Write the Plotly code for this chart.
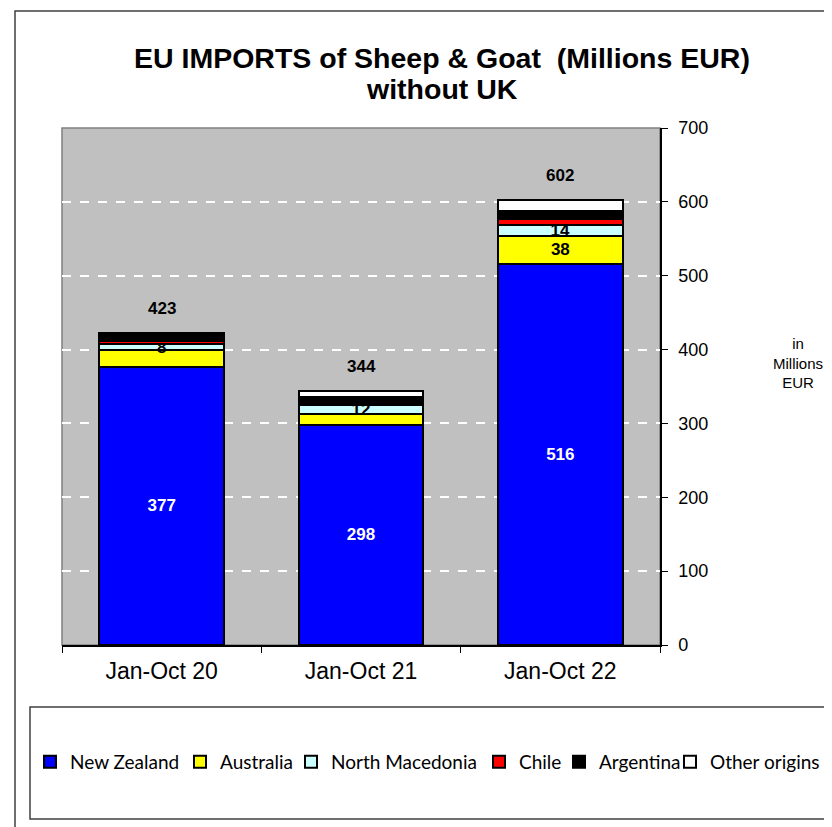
import plotly.graph_objects as go

categories = ["Jan-Oct 20", "Jan-Oct 21", "Jan-Oct 22"]
new_zealand = [377, 298, 516]
australia = [22, 15, 38]
north_macedonia = [8, 12, 14]
chile = [5, 3, 9]
argentina = [11, 8, 11]
other_origins = [0, 8, 14]
totals = [423, 344, 602]

series = [
    ("New Zealand", new_zealand, "#0000FF", [str(v) for v in new_zealand], "white"),
    ("Australia", australia, "#FFFF00", ["", "", str(australia[2])], "black"),
    ("North Macedonia", north_macedonia, "#CCFFFF", [str(v) for v in north_macedonia], "black"),
    ("Chile", chile, "#FF0000", ["", "", ""], "black"),
    ("Argentina", argentina, "#000000", ["", "", ""], "black"),
    ("Other origins", other_origins, "#FFFFFF", ["", "", ""], "black"),
]

# screen-pixel helpers (page has an 8px body margin)
PL, PR, PT, PB = 62, 660, 128, 645
def px(x):
    return (x - PL) / (PR - PL)
def py(y):
    return (PB - y) / (PB - PT)

legend_swatch_left = [49, 199, 310, 498, 578, 689]

fig = go.Figure()
for i, (name, vals, color, txt, tcol) in enumerate(series):
    lg = "legend" if i == 0 else f"legend{i + 1}"
    fig.add_trace(go.Bar(
        name=name, x=categories, y=vals, text=txt,
        textposition="inside", insidetextanchor="middle",
        textangle=0, constraintext="none",
        textfont=dict(family="Arial", size=17, color=tcol),
        texttemplate="<b>%{text}</b>",
        marker=dict(color=color, line=dict(color="black", width=2)),
        hoverinfo="skip", legend=lg,
    ))

for c, t in zip(categories, totals):
    fig.add_annotation(x=c, y=t, text=f"<b>{t}</b>", showarrow=False,
                       yanchor="bottom", yshift=13,
                       font=dict(family="Arial", size=17, color="black"))

fig.add_annotation(xref="paper", yref="paper", x=px(442), y=py(58),
                   text="<b>EU IMPORTS of Sheep & Goat  (Millions EUR)</b>",
                   showarrow=False, xanchor="center", yanchor="middle",
                   font=dict(family="Arial", size=28.5, color="black"))
fig.add_annotation(xref="paper", yref="paper", x=px(442), y=py(89),
                   text="<b>without UK</b>",
                   showarrow=False, xanchor="center", yanchor="middle",
                   font=dict(family="Arial", size=28.5, color="black"))

fig.add_annotation(xref="paper", yref="paper", x=px(798), y=py(363),
                   text="in<br>Millions<br>EUR", showarrow=False, align="center",
                   xanchor="center", yanchor="middle",
                   font=dict(family="Arial", size=15, color="black"))

# outer frame, legend box, plot-area border
fig.add_shape(type="rect", xref="paper", yref="paper",
              x0=px(15), x1=px(900), y0=py(900), y1=py(11),
              line=dict(color="#404040", width=1.5), layer="below")
fig.add_shape(type="rect", xref="paper", yref="paper",
              x0=px(30), x1=px(900), y0=py(819), y1=py(707),
              line=dict(color="#404040", width=1.5), layer="below")
fig.add_shape(type="rect", xref="paper", yref="paper",
              x0=0, x1=1, y0=0, y1=1,
              line=dict(color="#808080", width=1.5), layer="below")

legends = {}
for i, sl in enumerate(legend_swatch_left):
    key = "legend" if i == 0 else f"legend{i + 1}"
    legends[key] = dict(orientation="h", x=px(sl - 19), y=py(762),
                        xanchor="left", yanchor="middle",
                        font=dict(family="Lato", size=19, color="black"),
                        bgcolor="rgba(0,0,0,0)", borderwidth=0)

fig.update_layout(
    barmode="stack",
    bargap=0.375,
    width=824, height=819,
    margin=dict(l=54, r=172, t=120, b=182, autoexpand=False),
    paper_bgcolor="white",
    plot_bgcolor="#C0C0C0",
    showlegend=True,
    font=dict(family="Arial", color="black"),
    **legends,
)
fig.update_xaxes(
    automargin=False,
    showline=True, linecolor="black", linewidth=1.5,
    ticks="outside", ticklen=6, tickcolor="black", tickson="boundaries",
    tickfont=dict(family="Arial", size=23, color="black"),
    ticklabelstandoff=5,
)
fig.update_yaxes(
    automargin=False,
    side="right", range=[0, 700], dtick=100,
    showline=True, linecolor="black", linewidth=1.5,
    ticks="outside", ticklen=6, tickcolor="black",
    tickfont=dict(family="Arial", size=18, color="black"),
    ticklabelstandoff=7,
    showgrid=True, gridcolor="white", gridwidth=2, griddash="dash",
    zeroline=False,
)

fig.write_html("out.html")
